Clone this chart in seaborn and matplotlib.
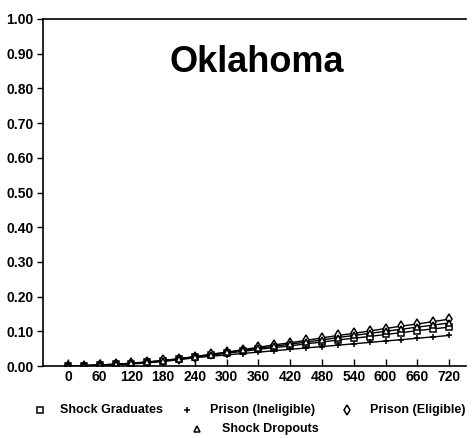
import matplotlib
matplotlib.use("Agg")
import matplotlib.pyplot as plt
from matplotlib.lines import Line2D
import numpy as np
import pandas as pd
import seaborn as sns

sns.set_theme(style="white")
plt.rcParams['font.family'] = ['Liberation Sans', 'DejaVu Sans']

days = [0, 30, 60, 90, 120, 150, 180, 210, 240, 270, 300, 330, 360,
        390, 420, 450, 480, 510, 540, 570, 600, 630, 660, 690, 720]

shock_graduates = [0.000, 0.001, 0.003, 0.005, 0.007, 0.011, 0.015, 0.020, 0.026,
                   0.031, 0.037, 0.042, 0.048, 0.053, 0.058, 0.064, 0.069, 0.075,
                   0.080, 0.085, 0.091, 0.096, 0.102, 0.107, 0.112]
prison_ineligible = [0.000, 0.001, 0.002, 0.004, 0.006, 0.009, 0.013, 0.018, 0.024,
                     0.028, 0.032, 0.036, 0.040, 0.044, 0.048, 0.052, 0.056, 0.060,
                     0.064, 0.068, 0.072, 0.076, 0.080, 0.084, 0.088]
prison_eligible = [0.000, 0.001, 0.003, 0.005, 0.008, 0.012, 0.016, 0.021, 0.027,
                   0.034, 0.040, 0.047, 0.054, 0.061, 0.067, 0.074, 0.081, 0.088,
                   0.094, 0.101, 0.108, 0.115, 0.121, 0.128, 0.135]
shock_dropouts = [0.000, 0.001, 0.003, 0.005, 0.008, 0.011, 0.015, 0.021, 0.027,
                  0.033, 0.039, 0.045, 0.051, 0.057, 0.063, 0.069, 0.075, 0.082,
                  0.088, 0.094, 0.100, 0.106, 0.112, 0.118, 0.124]

series = [("Shock Graduates", shock_graduates, "s"),
          ("Prison (Ineligible)", prison_ineligible, "+"),
          ("Prison (Eligible)", prison_eligible, "d"),
          ("Shock Dropouts", shock_dropouts, "^")]

fig = plt.figure(figsize=(4.72, 4.38), dpi=100)
ax = fig.add_axes([43 / 472, 72 / 438, 423 / 472, 347 / 438])

for name, vals, mk in series:
    df = pd.DataFrame({"day": days, "rate": vals})
    sns.lineplot(data=df, x="day", y="rate", ax=ax, color="black", lw=1.0,
                 marker=mk, markersize=5, markerfacecolor="white",
                 markeredgecolor="black", markeredgewidth=1.1)

ax.set_xlim(-47, 752)
ax.set_ylim(0, 1.0)
ax.set_xticks(np.arange(0, 721, 60))
ax.set_yticks(np.arange(0, 1.01, 0.1))
ax.set_yticklabels([f"{v:.2f}" for v in np.arange(0, 1.01, 0.1)])
ax.set_xlabel("")
ax.set_ylabel("")
for s in ["left", "bottom", "top"]:
    ax.spines[s].set_color("black")
    ax.spines[s].set_linewidth(1.2)
ax.spines["right"].set_visible(False)
ax.tick_params(axis="x", direction="in", length=5, width=1, colors="black",
               labelsize=10, pad=3, bottom=True)
ax.tick_params(axis="y", direction="out", length=4, width=1, colors="black",
               labelsize=10, pad=3, left=True)
for lab in ax.get_xticklabels() + ax.get_yticklabels():
    lab.set_fontweight("bold")

ax.text(0.506, 0.875, "Oklahoma", transform=ax.transAxes, ha="center",
        va="center", fontsize=26, fontweight="bold", color="black")

# legend drawn as marker + label pairs below the axes
legend_pos = [(40, 410, 60), (187, 410, 210), (347, 410, 370), (197, 429, 222)]
for (name, _, mk), (mx, my, tx) in zip(series, legend_pos):
    fig.add_artist(Line2D([mx / 472], [1 - my / 438], transform=fig.transFigure,
                          ls="none", marker=mk, color="black", markersize=5,
                          markerfacecolor="white", markeredgewidth=1.1))
    fig.text(tx / 472, 1 - my / 438, name, ha="left", va="center",
             fontsize=9, fontweight="bold", color="black")

fig.savefig("out.png", dpi=100)
